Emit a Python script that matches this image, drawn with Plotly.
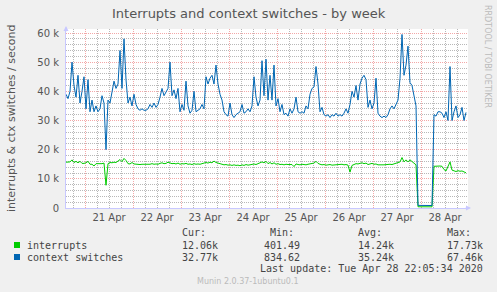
import pandas as pd
import plotly.graph_objects as go

# ---- data (hourly samples, thousands per second) ----
START = "2020-04-20 14:30"
ctx_k = [39, 37.5, 40, 50, 42, 38, 45.5, 36, 40, 45,
         34, 44, 33, 37, 33, 35, 33, 34, 38.5, 36,
         20, 37, 36, 40, 43.5, 41, 42.5, 54, 41, 58,
         44, 36, 38, 35, 39, 35.5, 34, 33.5, 34, 33.5,
         33.5, 34, 35.5, 34.5, 36, 34.5, 35.5, 38, 41, 38.5,
         40, 41, 50, 38.5, 40.5, 37.5, 41, 33, 35.5, 33.5,
         43.5, 35, 32.5, 33.5, 40, 33, 33.5, 34, 35.5, 34,
         45, 42.5, 44.5, 45.5, 42.5, 49, 42.5, 39, 37, 33,
         32, 31.5, 36, 32, 31, 32, 32.5, 33, 35.5, 32.5,
         33, 34, 33, 35, 45, 38, 35, 37, 50.5, 38.5,
         51, 37, 45.5, 37, 49, 35, 37.5, 33, 35.5, 32,
         32.5, 31.5, 34, 32.5, 34, 38, 33, 32.5, 33, 32.5,
         35, 34, 39, 41, 41.5, 48.5, 42.5, 33, 34.5, 32,
         31.5, 32, 31, 32, 31.5, 32.5, 31.5, 32, 31.5, 32.5,
         34, 32.5, 35.5, 40, 38, 42, 37, 42.5, 44.5, 45.5,
         44, 34.5, 37, 34, 36, 44.5, 32.5, 31.5, 31, 31.5,
         31, 32, 34, 35, 34, 35.5, 37, 44.5, 59.5, 45.5,
         49, 55.5, 43, 42, 38, 35, 0.9, 0.9, 0.85, 0.85,
         0.85, 0.85, 0.85, 0.85, 32, 31.5, 33, 33, 32.5, 31,
         33, 30, 48.5, 30, 33, 35, 31, 32, 34.5, 30,
         32.77]
irq_k = [15.7, 15.7, 15.8, 16.5, 15.6, 16, 15.5, 16, 15.3, 15.3,
         15.5, 16, 15, 15, 14.4, 15.2, 15.2, 15.1, 15.2, 15.4,
         7.8, 15.2, 15.6, 15.5, 15.7, 15.6, 16.2, 16.6, 15.9, 17,
         16.3, 15.2, 15.1, 15.6, 15.1, 15, 15.1, 14.9, 15, 15,
         15.1, 14.9, 15, 15.2, 15, 15.1, 15, 15.3, 15.5, 15.2,
         15.3, 15.7, 15.4, 15.2, 15.3, 15.1, 15.4, 15, 15.2, 15.1,
         15.3, 15, 15.1, 14.9, 15.2, 15, 15.1, 15, 15.2, 15.3,
         15.6, 15.4, 15.7, 15.5, 16.1, 15.6, 15.4, 15.1, 14.9, 14.8,
         14.9, 14.7, 14.8, 14.6, 14.8, 14.6, 14.7, 14.5, 14.8, 14.6,
         14.9, 14.7, 14.8, 15, 15.1, 14.9, 15.2, 15.4, 15.8, 15.5,
         16, 15.2, 15.6, 15.1, 15.5, 15, 15.2, 14.9, 15, 14.8,
         15, 14.9, 15, 14.9, 14.2, 15.1, 14.9, 14.8, 15, 14.9,
         14.8, 15, 15.1, 15.2, 15.4, 16, 15.3, 15, 14.8, 14.9,
         14.7, 14.8, 14.9, 14.7, 14.8, 14.9, 14.8, 14.9, 15, 14.8,
         14.9, 14.7, 12.3, 14.6, 15, 15.2, 15.1, 15.3, 15.5, 15.2,
         15.4, 14.9, 15.1, 15.3, 15, 15.1, 14.8, 14.9, 14.8, 14.8,
         14.9, 14.8, 15, 14.9, 15.1, 15.2, 15.4, 15.8, 17.3, 15.8,
         16.5, 15.8, 16.5, 16, 15.5, 14.8, 0.42, 0.4, 0.4, 0.4,
         0.4, 0.4, 0.4, 0.4, 14.3, 14.4, 14.3, 14.4, 14.3, 13.2,
         12.7, 14.5, 15.8, 13, 12.8, 12.5, 12.8, 12.6, 12.7, 12.3,
         12.06]
series_names = ["interrupts", "context switches"]
cur_vals = ["12.06k", "32.77k"]
min_vals = ["401.49", "834.62"]
avg_vals = ["14.24k", "35.24k"]
max_vals = ["17.73k", "67.46k"]
colors = ["#00CC00", "#0066B3"]

times = pd.date_range(START, periods=len(ctx_k), freq="h")
x_end = pd.Timestamp(START) + pd.Timedelta(hours=201)

fig = go.Figure()
fig.add_trace(go.Scatter(x=times, y=irq_k, mode="lines",
                         line=dict(color=colors[0], width=1), name=series_names[0]))
fig.add_trace(go.Scatter(x=times, y=ctx_k, mode="lines",
                         line=dict(color=colors[1], width=1), name=series_names[1]))

L, R, T, B = 66, 468, 29, 208
W, H = 497, 292


def px(x):
    return (x - L) / (R - L)


def py(y):
    return (B - y) / (B - T)


RED = "rgba(235,110,110,0.6)"
GRAY = "#B8B8B8"
AXC = "#C8C8FF"
TXT = "#555555"
DAY = 24 * 3600 * 1000

fig.update_layout(
    width=W, height=H, margin=dict(l=L, r=W - R, t=T, b=H - B),
    paper_bgcolor="#F0F0F0", plot_bgcolor="#FFFFFF", showlegend=False,
    font=dict(family="DejaVu Sans", size=10, color=TXT),
    xaxis=dict(type="date", range=[pd.Timestamp(START), x_end],
               tickmode="linear", tick0="2020-04-20 00:00", dtick=DAY, tickformat="%d %b",
               ticklabelshift=24, ticks="", showgrid=True, gridcolor=RED,
               griddash="1px,1px", gridwidth=1, zeroline=False,
               showline=True, linecolor=AXC, linewidth=1,
               tickfont=dict(family="DejaVu Sans", size=10, color=TXT),
               minor=dict(tickmode="linear", tick0="2020-04-20 00:00", dtick=DAY / 4,
                          showgrid=True, gridcolor=GRAY, griddash="1px,1px", gridwidth=1)),
    yaxis=dict(range=[0, 60 * (B - T) / 175], tickmode="linear", tick0=0, dtick=10,
               ticksuffix=" k", labelalias={"0 k": "0"}, ticks="", showgrid=True, gridcolor=RED,
               griddash="1px,1px", gridwidth=1, zeroline=False,
               showline=True, linecolor=AXC, linewidth=1, ticklabelstandoff=4,
               tickfont=dict(family="DejaVu Sans", size=10, color=TXT),
               minor=dict(tickmode="linear", tick0=0, dtick=2,
                          showgrid=True, gridcolor=GRAY, griddash="1px,1px", gridwidth=1)),
)

ann = []


def text(x, y, s, size=10, color="#444444", family="DejaVu Sans Mono", xa="left", angle=0):
    ann.append(dict(xref="paper", yref="paper", x=px(x), y=py(y), text=s, showarrow=False,
                    xanchor=xa, yanchor="middle", textangle=angle, borderpad=0, borderwidth=0,
                    font=dict(family=family, size=size, color=color)))


text(248.5, 13.5, "Interrupts and context switches - by week", 13, TXT, "DejaVu Sans", "center")
text(11, 119, "interrupts &amp; ctx switches / second", 11, TXT, "DejaVu Sans", "center", -90)
text(488, 56, "RRDTOOL / TOBI OETIKER", 8, "#BBBBBB", "DejaVu Sans", "center", 90)

text(182, 232.5, "Cur:")
text(270, 232.5, "Min:")
text(358, 232.5, "Avg:")
text(447, 232.5, "Max:")
rows_y = [245, 257]
for i in range(2):
    yy = rows_y[i]
    text(26.5, yy, series_names[i])
    text(217.5, yy, cur_vals[i], xa="right")
    text(299.5, yy, min_vals[i], xa="right")
    text(393.5, yy, avg_vals[i], xa="right")
    text(482.5, yy, max_vals[i], xa="right")
text(482.5, 268.2, "Last update: Tue Apr 28 22:05:34 2020", xa="right")
text(248, 281.2, "Munin 2.0.37-1ubuntu0.1", 8, "#BBBBBB", "DejaVu Sans", "center")

# axis arrow heads
ann.append(dict(xref="paper", yref="paper", x=px(471), y=py(208), ax=-7, ay=0,
                showarrow=True, arrowhead=2, arrowsize=1, arrowwidth=1, arrowcolor=AXC, text=""))
ann.append(dict(xref="paper", yref="paper", x=px(66), y=py(26), ax=0, ay=7,
                showarrow=True, arrowhead=2, arrowsize=1, arrowwidth=1, arrowcolor=AXC, text=""))
fig.update_layout(annotations=ann)

shapes = []
for i in range(2):
    yy = rows_y[i]
    shapes.append(dict(type="rect", xref="paper", yref="paper",
                       x0=px(14), x1=px(20), y0=py(yy - 3), y1=py(yy + 3),
                       fillcolor=colors[i], line=dict(width=0)))
fig.update_layout(shapes=shapes)

fig.write_html("out.html")
